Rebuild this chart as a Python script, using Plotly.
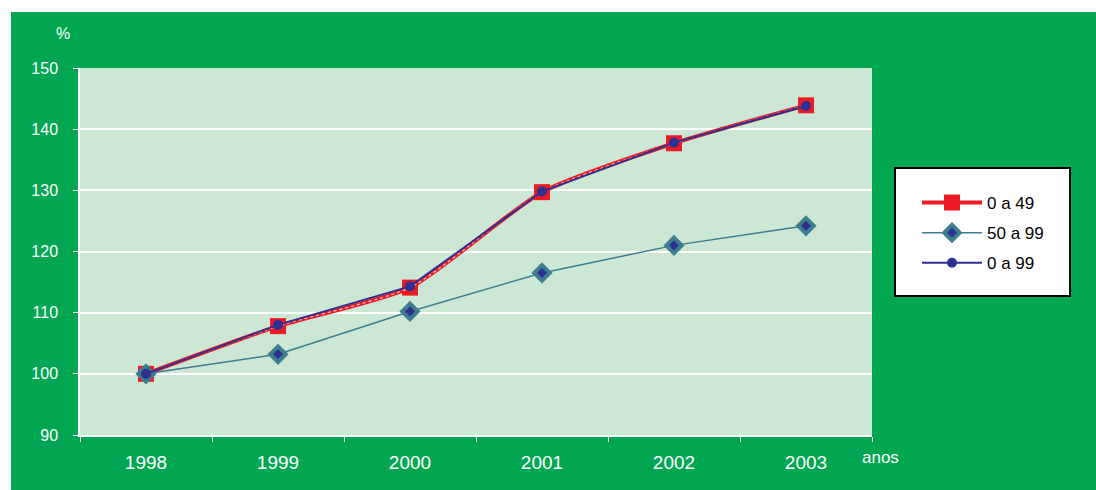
import plotly.graph_objects as go

years = ["1998", "1999", "2000", "2001", "2002", "2003"]
s_0_49 = [100.0, 107.8, 114.1, 129.7, 137.7, 143.9]
s_50_99 = [100.0, 103.2, 110.2, 116.5, 121.0, 124.2]
s_0_99 = [100.0, 108.0, 114.3, 129.8, 137.8, 143.8]
names = ["0 a 49", "50 a 99", "0 a 99"]
y_ticks = [90, 100, 110, 120, 130, 140, 150]

GREEN = "#00A651"
PLOT_BG = "#CDE7D5"
RED = "#ED1C24"
TEAL = "#3E7D8E"
NAVY = "#2E3192"
FONT = "Liberation Sans, Arial, sans-serif"

L, R, T, B = 80, 872, 68, 435
PW, PH = R - L, B - T


def px(x):
    return (x - L) / PW


def py(y):
    return (B - y) / PH


fig = go.Figure()

fig.add_trace(go.Scatter(
    x=years, y=s_0_49, name=names[0], mode="lines+markers", legendgroup="a",
    line=dict(color=RED, width=4, shape="spline", smoothing=0.6),
    marker=dict(symbol="square", size=16, color=RED),
))
fig.add_trace(go.Scatter(
    x=years, y=s_0_49, mode="lines", showlegend=False, hoverinfo="skip",
    line=dict(color="rgba(255,255,255,0.75)", width=1.2, dash="dot", shape="spline", smoothing=0.6),
))
fig.add_trace(go.Scatter(
    x=years, y=s_50_99, name=names[1], mode="lines+markers", legendgroup="b",
    line=dict(color=TEAL, width=1.5),
    marker=dict(symbol="diamond", size=12, color=NAVY, line=dict(color=TEAL, width=4)),
))
fig.add_trace(go.Scatter(
    x=years, y=s_0_99, name=names[2], mode="lines+markers", legendgroup="c",
    line=dict(color=NAVY, width=2),
    marker=dict(symbol="circle", size=10, color=NAVY),
))

# white strips outside the green panel
fig.add_shape(type="rect", xref="paper", yref="paper",
              x0=px(0), x1=px(1096), y0=py(12), y1=py(0),
              fillcolor="white", line=dict(width=0), layer="below")
fig.add_shape(type="rect", xref="paper", yref="paper",
              x0=px(0), x1=px(11), y0=py(490), y1=py(0),
              fillcolor="white", line=dict(width=0), layer="below")
# legend box
fig.add_shape(type="rect", xref="paper", yref="paper",
              x0=px(895), x1=px(1070), y0=py(296), y1=py(168),
              fillcolor="white", line=dict(color="black", width=2), layer="below")

fig.add_annotation(text="%", xref="paper", yref="paper", xanchor="center", yanchor="middle",
                   x=px(63), y=py(33), showarrow=False,
                   font=dict(family=FONT, size=16, color="white"))
fig.add_annotation(text="anos", xref="paper", yref="paper", xanchor="center", yanchor="middle",
                   x=px(880), y=py(457), showarrow=False,
                   font=dict(family=FONT, size=17, color="white"))

fig.update_layout(
    width=1096, height=490,
    margin=dict(l=L, r=1096 - R, t=T, b=490 - B),
    paper_bgcolor=GREEN,
    plot_bgcolor=PLOT_BG,
    font=dict(family=FONT, color="white"),
    legend=dict(
        x=px(917), y=py(185), xanchor="left", yanchor="top",
        bgcolor="rgba(0,0,0,0)", borderwidth=0,
        font=dict(family=FONT, size=17, color="black"),
        tracegroupgap=5, itemwidth=60,
    ),
    xaxis=dict(
        type="category", range=[-0.5, 5.5], showgrid=False,
        showline=True, linecolor="white", linewidth=1.5,
        ticks="outside", tickson="boundaries", ticklen=5, tickcolor="white",
        ticklabelstandoff=9,
        tickfont=dict(family=FONT, size=19, color="white"),
    ),
    yaxis=dict(
        range=[90, 150], tickvals=y_ticks, showgrid=True, gridcolor="white", gridwidth=1.5,
        showline=True, linecolor="white", linewidth=1.5, zeroline=False,
        ticks="outside", ticklen=5, tickcolor="white",
        ticklabelstandoff=12,
        tickfont=dict(family=FONT, size=16, color="white"),
    ),
)

fig.write_html("out.html")
